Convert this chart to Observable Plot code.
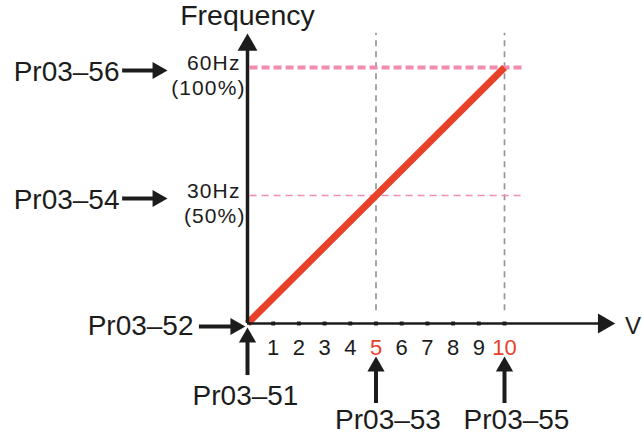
<!DOCTYPE html>
<html>
<head>
<meta charset="utf-8">
<script src="https://cdn.jsdelivr.net/npm/d3@7"></script>
<script src="https://cdn.jsdelivr.net/npm/@observablehq/plot@0.6"></script>
<style>
  html, body { margin: 0; padding: 0; background: #fff; }
  #chart svg g[font-size="21"] text { letter-spacing: 1.1px; }
</style>
</head>
<body>
<div id="chart"></div>
<script>
// ---- data ----
const lineVolts = [0, 10];
const lineFreqs = [0, 60];
const tickValues = [1, 2, 3, 4, 5, 6, 7, 8, 9, 10];
const redTicks = [5, 10];
const freqLevels = [60, 30];
const hzLabels = ["60Hz", "30Hz"];
const pctLabels = ["(100%)", "(50%)"];
const freqParams = ["Pr03–56", "Pr03–54"];
const voltLevels = [5, 10];
const voltParams = ["Pr03–53", "Pr03–55"];
const originParams = ["Pr03–52", "Pr03–51"];
const axisTitles = ["Frequency", "V"];

const lineData = lineVolts.map((v, i) => ({v, f: lineFreqs[i]}));
const levelData = freqLevels.map((f, i) => ({f, hz: hzLabels[i], pct: pctLabels[i], param: freqParams[i]}));
const voltData = voltLevels.map((v, i) => ({v, param: voltParams[i]}));

const INK = "#1c1c1c";
const RED = "#e8412a";
const PINK = "#f28bb0";
const GREY = "#9a9498";
const FONT = "Liberation Sans, Arial, sans-serif";

// layout (data units)
const xMax = 14.3;   // x-axis arrow tip
const yMax = 68;     // y-axis arrow tip

const chart = Plot.plot({
  width: 642,
  height: 434,
  margin: 0,
  style: {fontFamily: FONT, background: "#fff", color: INK},
  x: {domain: [0, 10], range: [247, 504], axis: null},
  y: {domain: [0, 60], range: [323, 67], axis: null},
  marks: [
    // vertical grey dashed guides
    Plot.ruleX(voltLevels, {x: d => d, y1: 3, y2: yMax, stroke: GREY, strokeWidth: 1.7, strokeDasharray: "6,5"}),
    // horizontal pink dashed guides
    Plot.ruleY([freqLevels[0]], {y: d => d, x1: 0.1, x2: 10.8, stroke: PINK, strokeWidth: 4, strokeDasharray: "8,4"}),
    Plot.ruleY([freqLevels[1]], {y: d => d, x1: 0.1, x2: 10.8, stroke: PINK, strokeWidth: 1.6, strokeDasharray: "7,5"}),
    // red characteristic line
    Plot.line(lineData, {x: "v", y: "f", stroke: RED, strokeWidth: 7, strokeLinecap: "butt"}),
    // axes
    Plot.ruleY([0], {x1: 0, x2: 13.9, stroke: INK, strokeWidth: 2.5}),
    Plot.dot([0], {x: 13.86, y: 0, symbol: "triangle", rotate: 90, r: 7.4, fill: INK, stroke: null}),
    Plot.ruleX([0], {x: 0, y1: 0, y2: 65, stroke: INK, strokeWidth: 3.5}),
    Plot.dot([0], {x: 0, y: 65.3, symbol: "triangle", r: 7.4, fill: INK, stroke: null}),
    // ticks
    Plot.dot(tickValues, {x: d => d, y: 0, symbol: "square", r: 2.2, fill: INK, stroke: null}),
    Plot.text(tickValues, {x: d => d, y: 0, dy: 24, text: d => String(d), fontSize: 22,
      fill: d => redTicks.includes(d) ? RED : INK}),
    // axis titles
    Plot.text([axisTitles[0]], {x: 0, y: yMax, dy: -17, text: d => d, fontSize: 28.5, fill: INK}),
    Plot.text([axisTitles[1]], {x: xMax, y: 0, dx: 10, dy: 3, text: d => d, fontSize: 24, textAnchor: "start", fill: INK}),
    // frequency level labels
    Plot.text(levelData, {x: 0, y: "f", dx: -7, dy: -4, text: "hz", fontSize: 21, textAnchor: "end", fill: INK}),
    Plot.text(levelData, {x: 0, y: "f", dx: -2, dy: 21, text: "pct", fontSize: 21, textAnchor: "end", fill: INK}),
    // frequency parameter labels and arrows
    Plot.text(levelData, {x: -4.98, y: "f", dy: 5, text: "param", fontSize: 28, textAnchor: "end", fill: INK}),
    Plot.ruleY(levelData, {y: "f", dy: 3, x1: -4.86, x2: -3.55, stroke: INK, strokeWidth: 4}),
    Plot.dot(levelData, {x: -3.5, y: "f", dy: 3, symbol: "triangle", rotate: 90, r: 6.4, fill: INK, stroke: null}),
    // origin parameter labels and arrows
    Plot.text([originParams[0]], {x: -2.1, y: 0, dy: 3, text: d => d, fontSize: 28, textAnchor: "end", fill: INK}),
    Plot.ruleY([0], {y: 0, dy: 3, x1: -1.87, x2: -0.55, stroke: INK, strokeWidth: 4}),
    Plot.dot([0], {x: -0.47, y: 0, dy: 3, symbol: "triangle", rotate: 90, r: 6.4, fill: INK, stroke: null}),
    Plot.text([originParams[1]], {x: 0, y: -16.9, dx: -2, text: d => d, fontSize: 28, fill: INK}),
    Plot.ruleX([0], {x: 0, y1: -12.2, y2: -3.6, stroke: INK, strokeWidth: 4}),
    Plot.dot([0], {x: 0, y: -3.28, symbol: "triangle", r: 6.4, fill: INK, stroke: null}),
    // voltage parameter labels and arrows
    Plot.text(voltData, {x: "v", y: -22.7, dx: 12, text: "param", fontSize: 28, fill: INK}),
    Plot.ruleX(voltData, {x: "v", y1: -18.75, y2: -10.5, stroke: INK, strokeWidth: 4}),
    Plot.dot(voltData, {x: "v", y: -10.08, symbol: "triangle", r: 6.4, fill: INK, stroke: null})
  ]
});
document.getElementById("chart").appendChild(chart);
</script>
</body>
</html>
